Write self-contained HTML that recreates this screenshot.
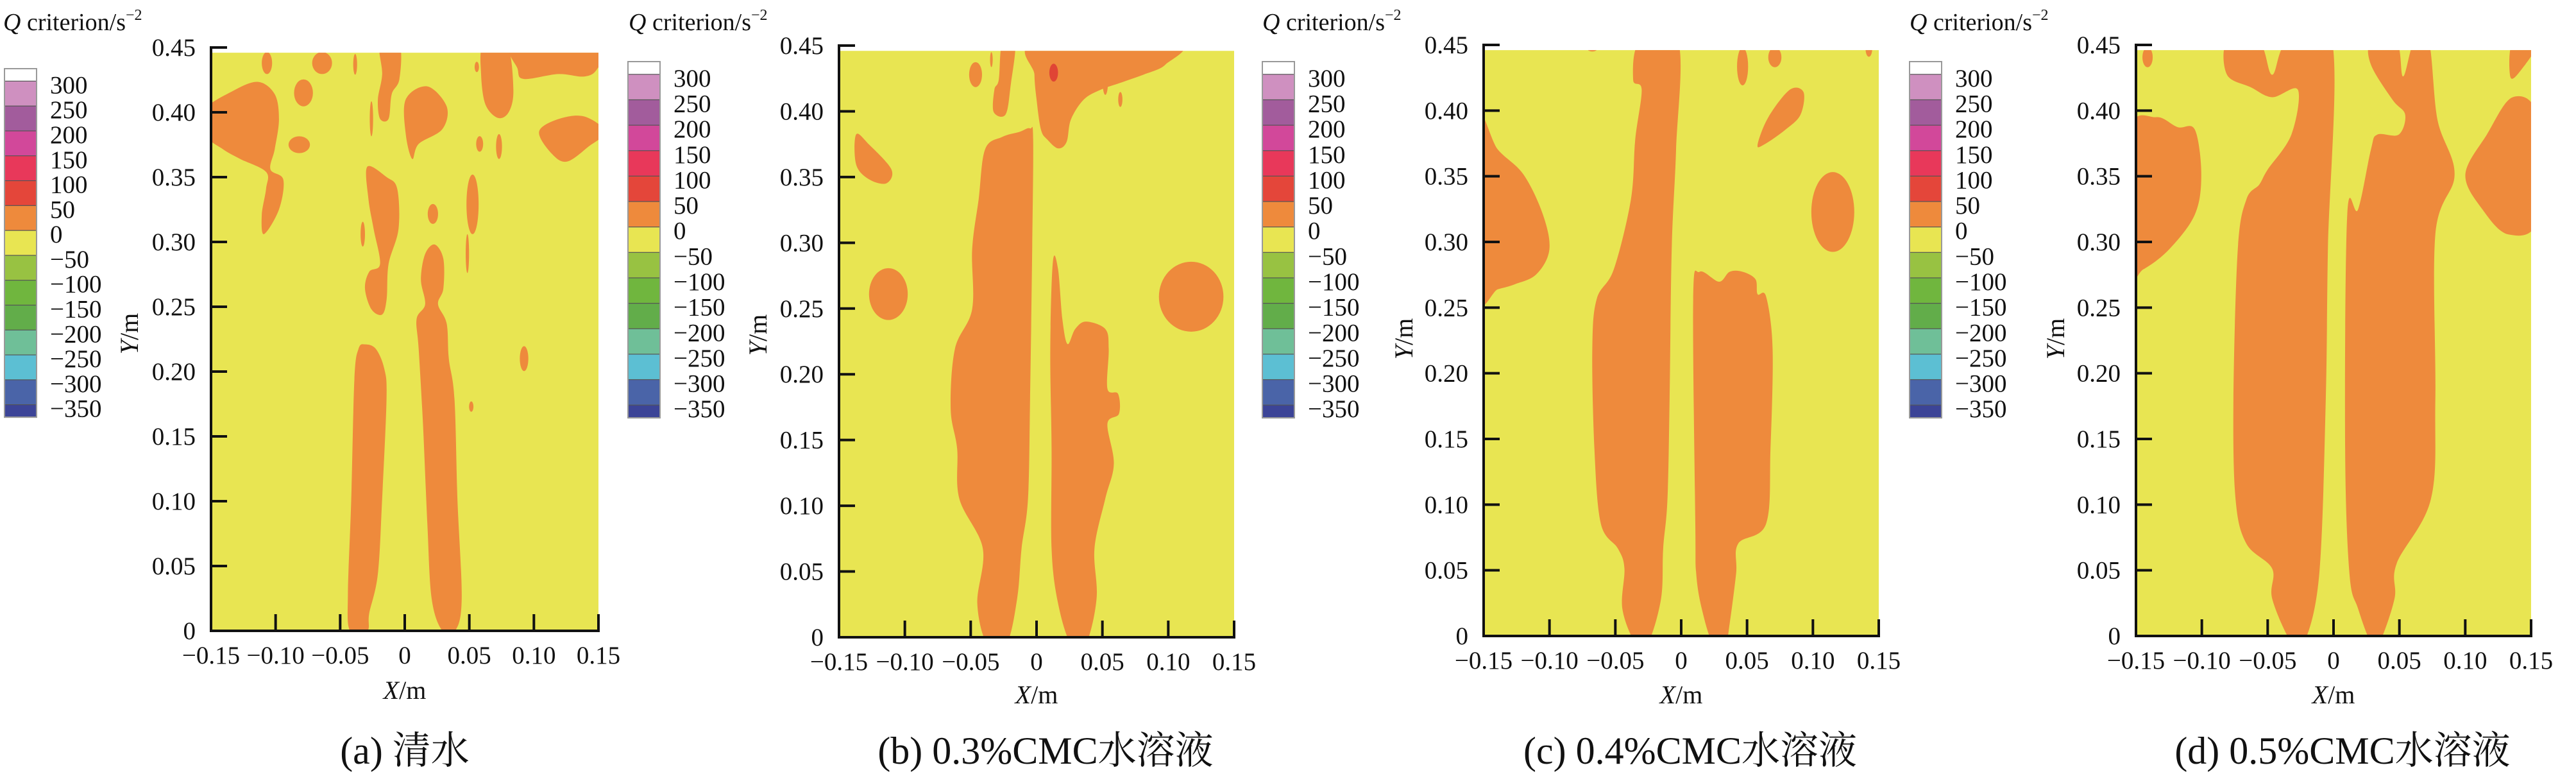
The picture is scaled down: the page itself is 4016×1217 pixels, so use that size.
<!DOCTYPE html>
<html><head><meta charset="utf-8"><style>
html,body{margin:0;padding:0;background:#fff;}
svg{display:block;}
text{font-family:"Liberation Serif","Noto Serif CJK SC",serif;fill:#111;}
</style></head><body>
<svg id="fig" width="4016" height="1217" viewBox="0 0 4016 1217" xmlns="http://www.w3.org/2000/svg"></svg>
<script>
// ---- colorbar data ----
const levelLabels = ["300","250","200","150","100","50","0","\u221250","\u2212100","\u2212150","\u2212200","\u2212250","\u2212300","\u2212350"];
const levelColors = ["#ffffff","#cf90c0","#a25c9c","#d2489a","#e8385a","#e4463a","#ee8a3c","#e8e552","#98c242","#70b63e","#62ad4a","#6fbf98","#5cbfd3","#4a64a8","#3c4497"];
// ---- axis data ----
const yTicks = [0,0.05,0.10,0.15,0.20,0.25,0.30,0.35,0.40,0.45];
const yTickLabels = ["0","0.05","0.10","0.15","0.20","0.25","0.30","0.35","0.40","0.45"];
const xTicks = [-0.15,-0.10,-0.05,0,0.05,0.10,0.15];
const xTickLabels = ["\u22120.15","\u22120.10","\u22120.05","0","0.05","0.10","0.15"];
const captions = ["(a) 清水","(b) 0.3%CMC水溶液","(c) 0.4%CMC水溶液","(d) 0.5%CMC水溶液"];
// ---- contour regions (Q in 0..50 band), data coords [x m, y m] ----
const blobsA = [
 [[-0.0424,0],[-0.044,0.029],[-0.0414,0.102],[-0.039,0.194],[-0.0358,0.2175],[-0.0308,0.221],[-0.0224,0.2175],[-0.0158,0.202],[-0.0141,0.179],[-0.0175,0.102],[-0.0208,0.044],[-0.0275,0.0135],[-0.029,0]],
 [[0.0291,0],[0.0208,0.025],[0.0175,0.083],[0.0141,0.16],[0.0108,0.2175],[0.0092,0.2406],[0.0158,0.252],[0.0125,0.271],[0.0158,0.2907],[0.0232,0.298],[0.0299,0.287],[0.0299,0.264],[0.0258,0.252],[0.0325,0.237],[0.0341,0.21],[0.0385,0.179],[0.0408,0.102],[0.0441,0.025],[0.0391,0]],
 [[-0.029,0.358],[-0.014,0.35],[-0.0058,0.341],[-0.0048,0.31],[-0.0125,0.283],[-0.014,0.256],[-0.0175,0.244],[-0.0258,0.248],[-0.0308,0.264],[-0.0275,0.277],[-0.0191,0.283],[-0.0241,0.31],[-0.0281,0.333]],
 [[-0.155,0.402],[-0.134,0.416],[-0.114,0.4235],[-0.1007,0.414],[-0.0974,0.3946],[-0.1007,0.3715],[-0.104,0.356],[-0.094,0.348],[-0.0974,0.325],[-0.109,0.306],[-0.1107,0.321],[-0.1074,0.341],[-0.1074,0.354],[-0.1274,0.364],[-0.1407,0.3715],[-0.155,0.383]],
 [[-0.0191,0.452],[-0.0041,0.452],[-0.0041,0.4257],[-0.0101,0.414],[-0.0125,0.395],[-0.0191,0.395],[-0.0208,0.41],[-0.0175,0.4295]],
 [[0.0008,0.41],[0.0175,0.42],[0.0325,0.4045],[0.0291,0.387],[0.0108,0.3756],[0.0058,0.364],[0.0008,0.383]],
 [[0.0608,0.452],[0.0791,0.452],[0.0841,0.418],[0.0808,0.4006],[0.0724,0.3956],[0.0625,0.406],[0.0591,0.4295]],
 [[0.0858,0.452],[0.155,0.452],[0.149,0.4334],[0.139,0.4276],[0.119,0.4295],[0.0924,0.4257],[0.0874,0.4334]],
 [[0.104,0.385],[0.119,0.3948],[0.139,0.3968],[0.155,0.385],[0.1424,0.3736],[0.1257,0.362],[0.114,0.3679]]
];
const spotsA = [[-0.1067,0.438,0.004,0.0085],[-0.064,0.438,0.0077,0.0085],[-0.0384,0.437,0.0015,0.008],[-0.0784,0.415,0.0073,0.0104],[-0.0817,0.375,0.0083,0.0065],[0.0218,0.3216,0.004,0.0077],[0.0525,0.329,0.0047,0.023],[0.058,0.3756,0.0027,0.006],[0.073,0.3736,0.0023,0.0096],[0.0558,0.435,0.0017,0.004],[0.0485,0.291,0.0013,0.015],[-0.0325,0.306,0.0017,0.0096],[-0.0258,0.395,0.0013,0.0135],[0.0924,0.21,0.0033,0.0096],[0.0515,0.173,0.0017,0.004]];
const blobsB = [
 [[-0.0375,-0.005],[-0.045,0.0258],[-0.0408,0.0675],[-0.0587,0.1055],[-0.0603,0.1434],[-0.0652,0.1737],[-0.062,0.2193],[-0.0489,0.2496],[-0.0489,0.2951],[-0.044,0.333],[-0.0391,0.371],[-0.0261,0.3805],[-0.0131,0.3843],[-0.0049,0.387],[-0.0026,0.3786],[-0.0033,0.2951],[-0.0049,0.1813],[-0.0065,0.1055],[-0.0114,0.0675],[-0.0147,0.0296],[-0.0228,-0.005]],
 [[0.026,-0.005],[0.0163,0.0258],[0.0114,0.0675],[0.0114,0.1434],[0.0104,0.2193],[0.0124,0.2857],[0.0163,0.28],[0.0196,0.242],[0.0235,0.223],[0.0293,0.2344],[0.0375,0.2401],[0.0522,0.2344],[0.0548,0.2193],[0.0538,0.189],[0.0619,0.1851],[0.0626,0.17],[0.0538,0.1624],[0.0587,0.132],[0.0522,0.1055],[0.044,0.0675],[0.0456,0.0296],[0.0375,-0.005]],
 [[-0.0007,0.452],[0.106,0.452],[0.0978,0.4355],[0.0815,0.428],[0.0652,0.4222],[0.0489,0.4165],[0.0359,0.409],[0.0261,0.3938],[0.0228,0.3767],[0.0163,0.3718],[0.0081,0.3786],[0.0033,0.3862],[0,0.409],[-0.0016,0.428]],
 [[-0.0261,0.452],[-0.0163,0.452],[-0.0196,0.4203],[-0.0235,0.3976],[-0.0326,0.3995],[-0.032,0.4165],[-0.0287,0.4241]],
 [[-0.137,0.3824],[-0.1272,0.3748],[-0.1102,0.3558],[-0.1141,0.3452],[-0.1272,0.3483],[-0.137,0.3596]]
];
const spotsB = [[-0.1125,0.261,0.0147,0.0197],[0.1174,0.259,0.0245,0.0266],[-0.0463,0.4279,0.0049,0.0095],[-0.0343,0.4393,0.001,0.0057],[0.0636,0.409,0.0016,0.0057],[0.0522,0.422,0.002,0.0095]];
const redB = [[0.013,0.4294,0.0033,0.0068]];
const blobsC = [
 [[-0.0349,-0.005],[-0.0447,0.0209],[-0.0431,0.0513],[-0.048,0.0665],[-0.061,0.0855],[-0.0659,0.1424],[-0.0675,0.2184],[-0.0642,0.2564],[-0.0512,0.2791],[-0.0382,0.3323],[-0.0349,0.3779],[-0.03,0.4159],[-0.0365,0.4235],[-0.0316,0.452],[-0.0023,0.452],[-0.0039,0.3703],[-0.0072,0.2943],[-0.0088,0.1804],[-0.0104,0.1044],[-0.0137,0.0665],[-0.0153,0.0285],[-0.0251,-0.005]],
 [[0.0238,-0.005],[0.0156,0.0209],[0.0114,0.0475],[0.0107,0.0855],[0.0091,0.2564],[0.014,0.2773],[0.0287,0.2697],[0.0368,0.2773],[0.0466,0.2773],[0.0564,0.2716],[0.058,0.2602],[0.0645,0.2583],[0.0694,0.2184],[0.0678,0.1424],[0.0645,0.0855],[0.0433,0.0703],[0.0417,0.0475],[0.0368,0.0095],[0.0336,-0.005]],
 [[-0.155,0.3931],[-0.1392,0.3703],[-0.1197,0.3513],[-0.105,0.3209],[-0.1001,0.2943],[-0.1099,0.2754],[-0.1262,0.2678],[-0.1392,0.264],[-0.155,0.2602]],
 [[0.058,0.3741],[0.0662,0.395],[0.0825,0.4159],[0.0929,0.414],[0.0906,0.3969],[0.0792,0.3855],[0.0629,0.3741]]
];
const spotsC = [[0.1151,0.3228,0.0163,0.0304],[0.0466,0.4336,0.0042,0.0144],[0.0711,0.4406,0.005,0.0076],[-0.0675,0.4475,0.004,0.0025],[0.1425,0.447,0.0025,0.006]];
const blobsD = [
 [[-0.032,-0.005],[-0.0466,0.0285],[-0.0466,0.0513],[-0.0662,0.0703],[-0.0744,0.1044],[-0.076,0.1804],[-0.0727,0.2943],[-0.0662,0.3323],[-0.0564,0.3437],[-0.05,0.3551],[-0.032,0.3817],[-0.0271,0.4159],[-0.0466,0.4102],[-0.0629,0.4178],[-0.0809,0.4273],[-0.0809,0.452],[-0.0564,0.452],[-0.0466,0.4273],[-0.0352,0.452],[-0.001,0.452],[-0.0043,0.2943],[-0.0059,0.1804],[-0.0108,0.0475],[-0.0222,-0.005]],
 [[0.0284,-0.005],[0.0186,0.0209],[0.0121,0.0475],[0.0088,0.1424],[0.0104,0.3209],[0.0186,0.3247],[0.0284,0.3703],[0.0332,0.3817],[0.0495,0.3817],[0.0544,0.3969],[0.0447,0.4083],[0.0284,0.4349],[0.0284,0.452],[0.0479,0.452],[0.0528,0.426],[0.0610,0.452],[0.0724,0.452],[0.0789,0.3931],[0.0919,0.3513],[0.0773,0.3057],[0.0773,0.1804],[0.074,0.1044],[0.0479,0.0551],[0.0463,0.0285],[0.0349,-0.005]],
 [[-0.155,0.3836],[-0.1347,0.395],[-0.1184,0.3874],[-0.1053,0.3855],[-0.1004,0.3513],[-0.1053,0.3209],[-0.1249,0.2943],[-0.1445,0.2791],[-0.155,0.2773]],
 [[0.155,0.395],[0.136,0.4102],[0.1164,0.3817],[0.1001,0.3513],[0.1131,0.3247],[0.1327,0.3057],[0.155,0.3171]],
 [[0.136,0.452],[0.155,0.452],[0.1425,0.4311],[0.1343,0.4254]]
];
const spotsD = [[-0.1412,0.4406,0.0039,0.0076]];

const panels = [
 {id:"a", x0:329, x1:933, yb:983, yt:74, cbx:7, cbt:107, cbb:650, tx:5, blobs:blobsA, spots:spotsA, red:[], ylx:201, yly:520, xly:1075},
 {id:"b", x0:1308, x1:1924, yb:993, yt:71, cbx:979, cbt:96, cbb:651, tx:980, blobs:blobsB, spots:spotsB, red:redB, ylx:1181, yly:522, xly:1082},
 {id:"c", x0:2313, x1:2929, yb:991, yt:70, cbx:1968, cbt:96, cbb:651, tx:1968, blobs:blobsC, spots:spotsC, red:[], ylx:2188, yly:528, xly:1082},
 {id:"d", x0:3330, x1:3946, yb:991, yt:70, cbx:2977, cbt:96, cbb:651, tx:2977, blobs:blobsD, spots:spotsD, red:[], ylx:3204, yly:528, xly:1082}
];
const NS="http://www.w3.org/2000/svg";
const svg=document.getElementById("fig");
function mk(tag,attrs,parent){const e=document.createElementNS(NS,tag);for(const k in attrs)e.setAttribute(k,attrs[k]);(parent||svg).appendChild(e);return e;}
function smooth(pts){
 const n=pts.length;let d="M"+pts[0][0].toFixed(1)+","+pts[0][1].toFixed(1);
 for(let i=0;i<n;i++){const p0=pts[(i-1+n)%n],p1=pts[i],p2=pts[(i+1)%n],p3=pts[(i+2)%n];
  const c1=[p1[0]+(p2[0]-p0[0])/6,p1[1]+(p2[1]-p0[1])/6],c2=[p2[0]-(p3[0]-p1[0])/6,p2[1]-(p3[1]-p1[1])/6];
  d+="C"+c1[0].toFixed(1)+","+c1[1].toFixed(1)+" "+c2[0].toFixed(1)+","+c2[1].toFixed(1)+" "+p2[0].toFixed(1)+","+p2[1].toFixed(1);}
 return d+"Z";}
panels.forEach((P,pi)=>{
 const sx=v=>P.x0+(v+0.15)/0.3*(P.x1-P.x0);
 const sy=v=>P.yb-v/0.45*(P.yb-P.yt);
 const g=mk("g",{});
 
 
 // colorbar title
 const t=mk("text",{x:P.tx,y:47,"font-size":38},g);
 
 
 t.innerHTML='<tspan font-style="italic">Q</tspan> criterion/s<tspan font-size="24" dy="-16">\u22122</tspan>';
 // colorbar
 const cb=mk("g",{},g);
 
 
 const h=(P.cbb-P.cbt)/14;
 let yy=P.cbt;
 levelColors.forEach((c,i)=>{const hh=(i===0||i===14)?h/2:h;
  const r=mk("rect",{x:P.cbx,y:yy,width:50,height:hh+0.5,fill:c,stroke:"#555","stroke-width":1.2},cb);
  
  
  yy+=hh;});
 mk("rect",{x:P.cbx,y:P.cbt,width:50,height:P.cbb-P.cbt,fill:"none",stroke:"#999","stroke-width":2},cb);
 levelLabels.forEach((l,i)=>{const y=P.cbt+h/2+i*h+6;
  const tl=mk("text",{x:P.cbx+71,y:y+13,"font-size":39},cb);tl.textContent=l;
  
  });
 // plot fill
 const clipId="clip"+P.id;
 const cp=mk("clipPath",{id:clipId},g);
 mk("rect",{x:P.x0,y:sy(0.446),width:P.x1-P.x0,height:sy(0)-sy(0.446)},cp);
 const plot=mk("g",{"clip-path":"url(#"+clipId+")"},g);
 
 
 mk("rect",{x:P.x0,y:0,width:P.x1-P.x0,height:1100,fill:"#e8e552"},plot);
 P.blobs.forEach(b=>{const p=mk("path",{d:smooth(b.map(q=>[sx(q[0]),sy(q[1])])),fill:"#ee8a3c"},plot);
  
  });
 P.spots.forEach(s=>{const e=mk("ellipse",{cx:sx(s[0]),cy:sy(s[1]),rx:s[2]/0.3*(P.x1-P.x0),ry:s[3]/0.45*(P.yb-P.yt),fill:"#ee8a3c"},plot);
  
  });
 P.red.forEach(s=>{const e=mk("ellipse",{cx:sx(s[0]),cy:sy(s[1]),rx:s[2]/0.3*(P.x1-P.x0),ry:s[3]/0.45*(P.yb-P.yt),fill:"#e04535"},plot);
  
  });
 // axes
 const ax=mk("g",{stroke:"#111","stroke-width":4},g);
 
 
 mk("line",{x1:P.x0,y1:sy(0.45)-2,x2:P.x0,y2:P.yb+2},ax);
 mk("line",{x1:P.x0-2,y1:P.yb,x2:P.x1+2,y2:P.yb},ax);
 yTicks.forEach((v,i)=>{ if(v>0) mk("line",{x1:P.x0,y1:sy(v),x2:P.x0+25,y2:sy(v)},ax);
  const tl=mk("text",{x:P.x0-24,y:sy(v)+13,"font-size":39,"text-anchor":"end",stroke:"none"},g);tl.textContent=yTickLabels[i];
  
  });
 xTicks.forEach((v,i)=>{ if(i>0) mk("line",{x1:sx(v),y1:P.yb,x2:sx(v),y2:P.yb-26},ax);
  const tl=mk("text",{x:sx(v),y:P.yb+51,"font-size":39,"text-anchor":"middle"},g);tl.textContent=xTickLabels[i];
  
  });
 const xl=mk("text",{x:(P.x0+P.x1)/2,y:P.xly+14,"font-size":40,"text-anchor":"middle"},g);
 xl.innerHTML='<tspan font-style="italic">X</tspan>/m';
 
 
 const yl=mk("text",{x:0,y:0,"font-size":40,"text-anchor":"middle",transform:"translate("+(P.ylx+14)+","+P.yly+") rotate(-90)"},g);
 yl.innerHTML='<tspan font-style="italic">Y</tspan>/m';
 
 
 const cap=mk("text",{x:(P.x0+P.x1)/2+(pi===0?0:14),y:1190,"font-size":60,"text-anchor":"middle"},g);
 cap.textContent=captions[pi];
 
 
});
</script>
</body></html>
